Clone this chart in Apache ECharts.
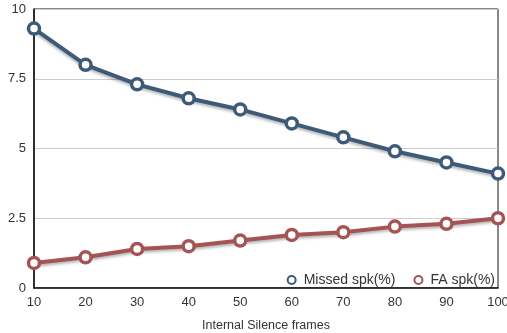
<!DOCTYPE html>
<html><head><meta charset="utf-8">
<script src="https://cdn.jsdelivr.net/npm/echarts@6/dist/echarts.min.js"></script>
<style>html,body{margin:0;padding:0;background:#fff}#c{width:507px;height:333px}</style>
</head><body><div id="c"></div>
<script>
var frames = [10, 20, 30, 40, 50, 60, 70, 80, 90, 100];
var missed = [9.3, 8.0, 7.3, 6.8, 6.4, 5.9, 5.4, 4.9, 4.5, 4.1];
var fa = [0.9, 1.1, 1.4, 1.5, 1.7, 1.9, 2.0, 2.2, 2.3, 2.5];
var seriesNames = ['Missed spk(%)', 'FA spk(%)'];
var xTitle = 'Internal Silence frames';

function pairs(xs, ys){ return xs.map(function(x,i){return [x, ys[i]];}); }
var font = 'Liberation Sans, Arial, Helvetica, sans-serif';
var chart = echarts.init(document.getElementById('c'));
function mk(name, data, color){
  return {
    name: name, type: 'line', data: pairs(frames, data),
    symbol: 'circle', symbolSize: 11,
    lineStyle: {color: color, width: 4, shadowColor: 'rgba(0,0,0,0.3)', shadowBlur: 3, shadowOffsetY: 2},
    itemStyle: {color: '#fff', borderColor: color, borderWidth: 3.5},
    animation: false
  };
}
chart.setOption({
  animation: false,
  grid: {left: 34, right: 9, top: 9, bottom: 45, show: true, borderColor: '#111', borderWidth: 1,
         containLabel: false, outerBoundsMode: 'none'},
  legend: {
    right: 7, top: 268, itemGap: 18, itemWidth: 8, itemHeight: 8,
    textStyle: {fontFamily: font, fontSize: 14, color: '#333', padding: [0, 0, 0, 3]},
    data: [
      {name: seriesNames[0], icon: 'circle', itemStyle: {color: '#fff', borderColor: '#3d5a78', borderWidth: 2}},
      {name: seriesNames[1], icon: 'circle', itemStyle: {color: '#fff', borderColor: '#a45454', borderWidth: 2}}
    ]
  },
  xAxis: {
    type: 'value', min: 10, max: 100, interval: 10,
    name: xTitle, nameLocation: 'middle', nameGap: 31,
    nameTextStyle: {fontFamily: font, fontSize: 12.5, color: '#333'},
    axisLine: {lineStyle: {color: '#111', width: 1.5}},
    axisTick: {show: false}, splitLine: {show: false},
    axisLabel: {fontFamily: font, fontSize: 13, color: '#333', margin: 8}
  },
  yAxis: {
    type: 'value', min: 0, max: 10, interval: 2.5,
    axisLine: {show: true, lineStyle: {color: '#111', width: 1.5}},
    axisTick: {show: false},
    splitLine: {lineStyle: {color: '#ccc', width: 1}},
    axisLabel: {fontFamily: font, fontSize: 13, color: '#333', margin: 8}
  },
  series: [mk(seriesNames[0], missed, '#3d5a78'), mk(seriesNames[1], fa, '#a45454')]
});
</script></body></html>
